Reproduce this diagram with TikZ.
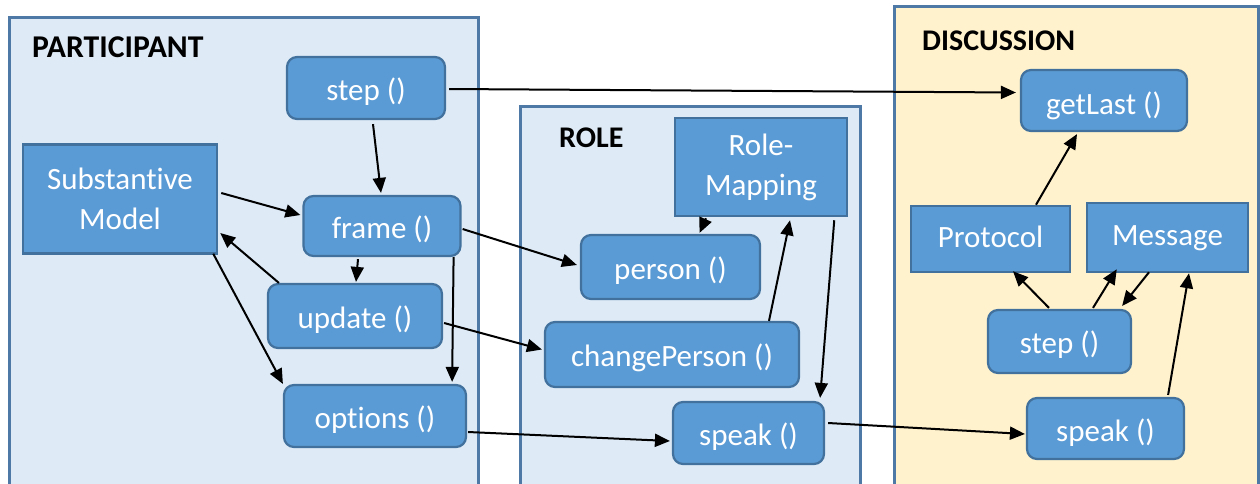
\documentclass[tikz,border=0pt]{standalone}
\usepackage{fontspec}
\setmainfont{Carlito}[Ligatures=NoCommon]
\usetikzlibrary{arrows.meta,calc}
\definecolor{nodefill}{HTML}{5B9BD5}
\definecolor{nodeedge}{HTML}{41719C}
\definecolor{partfill}{HTML}{DEEBF7}
\definecolor{discfill}{HTML}{FFF2CC}
\definecolor{frameedge}{HTML}{4E79A7}
\begin{document}
\begin{tikzpicture}[x=1pt,y=-1pt,
  container/.style={draw=frameedge, line width=3pt, inner sep=0pt, anchor=north west},
  title/.style={font=\fontsize{30}{36}\selectfont\bfseries, anchor=base west, inner sep=0pt, text=black},
  boxbase/.style={fill=nodefill, draw=nodeedge, text=white, inner sep=0pt, font=\fontsize{31}{40}\selectfont, align=center},
  rbox/.style={boxbase, line width=2.2pt, rounded corners=10pt, text height=24pt, text depth=0pt},
  sbox/.style={boxbase, line width=2.5pt},
  sline/.style={sbox, text height=16pt, text depth=0pt},
  arr/.style={-{Triangle[length=15pt,width=13pt]}, line width=2pt, black}]
\useasboundingbox (0,0) rectangle (1260,483);
% containers
\node[container, fill=partfill, minimum width=469, minimum height=490] (participant) at (8,16) {};
\node[container, fill=partfill, minimum width=340, minimum height=400] (role) at (519,105) {};
\node[container, fill=discfill, minimum width=364, minimum height=500] (discussion) at (893,5) {};
\node[title, font=\fontsize{31.7}{36}\selectfont\bfseries] (ptitle) at (32,57) {PARTICIPANT};
\node[title] (rtitle) at (559,147) {ROLE};
\node[title] (dtitle) at (922,50) {DISCUSSION};
% participant nodes
\node[rbox, minimum width=158, minimum height=62] (pstep) at (366,88) {step ()};
\node[sbox, minimum width=194, minimum height=109] (subst) at (120,199) {Substantive\\Model};
\node[rbox, minimum width=157, minimum height=60] (frame) at (382,226) {frame ()};
\node[rbox, minimum width=174, minimum height=64] (update) at (355,316) {update ()};
\node[rbox, minimum width=182, minimum height=62] (options) at (375,416) {options ()};
% role nodes
\node[sbox, minimum width=172, minimum height=98] (rolemap) at (761,167) {Role-\\Mapping};
\node[rbox, minimum width=179, minimum height=64] (person) at (670.5,267) {person ()};
\node[rbox, minimum width=254, minimum height=65] (changep) at (672,354.5) {changePerson ()};
\node[rbox, minimum width=151, minimum height=62] (rspeak) at (748.5,433) {speak ()};
% discussion nodes
\node[rbox, text height=28pt, minimum width=166, minimum height=61] (getlast) at (1104,100.5) {getLast ()};
\node[sline, minimum width=159, minimum height=66] (protocol) at (990.5,239) {Protocol};
\node[sline, minimum width=161, minimum height=69] (message) at (1167.5,237.5) {Message};
\node[rbox, minimum width=143, minimum height=63] (dstep) at (1059.5,341.5) {step ()};
\node[rbox, text height=26pt, minimum width=157, minimum height=61] (dspeak) at (1105.5,428.5) {speak ()};
% connectors
\draw[arr] ($(pstep.east)+(3,1)$) -- ($(getlast.west)+(-4,-8)$);
\draw[arr] ($(pstep.south)+(7,4)$) -- ($(frame.north)+(-1,-2)$);
\draw[arr] ($(subst.east)+(3,-6)$) -- ($(frame.west)+(-2,-11)$);
\draw[arr] ($(update.north west)+(12,0)$) -- ($(subst.east)+(2,34)$);
\draw[arr] ($(subst.south east)+(-5,-1)$) -- ($(options.north west)+(0,0)$);
\draw[arr] ($(frame.south)+(-24,2)$) -- ($(update.north)+(1,-1)$);
\draw[arr] ($(frame.south east)+(-8,0)$) -- ($(options.north east)+(-15,-2)$);
\draw[arr] ($(frame.east)+(1,3)$) -- ($(person.west)+(-3,-2)$);
\draw[arr] ($(update.east)+(1,7)$) -- ($(changep.west)+(-2,-5)$);
\draw[arr] ($(options.east)+(1,16)$) -- ($(rspeak.west)+(-2,8)$);
\draw[arr] ($(rolemap.south)+(-55,1)$) -- ($(person.north)+(29,-1)$);
\draw[arr] ($(changep.north)+(97,0)$) -- ($(rolemap.south)+(29,3)$);
\draw[arr] ($(rolemap.south east)+(-14,3)$) -- ($(rspeak.north east)+(-5,-3)$);
\draw[arr] ($(rspeak.east)+(3,-10)$) -- ($(dspeak.west)+(-1,5.5)$);
\draw[arr] ($(protocol.north)+(45.5,0)$) -- ($(getlast.south)+(-27,2)$);
\draw[arr] ($(dstep.north)+(-10.5,-1)$) -- ($(protocol.south)+(22.5,-2)$);
\draw[arr] ($(dstep.north)+(33.5,-1)$) -- ($(message.south west)+(31,-4)$);
\draw[arr] ($(message.south)+(-18.5,-1)$) -- ($(dstep.north east)+(-10,-3)$);
\draw[arr] ($(dspeak.north east)+(-17,-2)$) -- ($(message.south)+(21.5,0)$);
\end{tikzpicture}
\end{document}
